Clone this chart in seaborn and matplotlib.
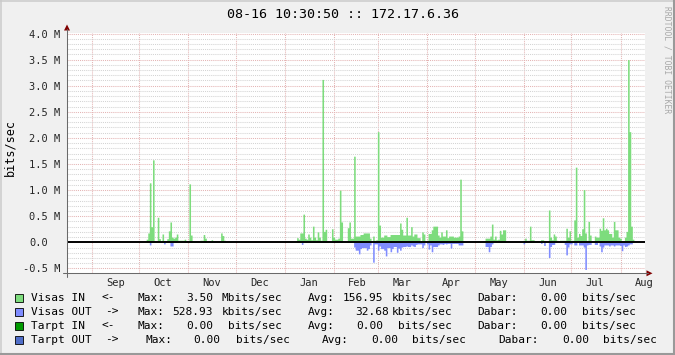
import numpy as np
import pandas as pd
import matplotlib
matplotlib.use("Agg")
import matplotlib.pyplot as plt
import seaborn as sns
from matplotlib.patches import Rectangle, Polygon
from matplotlib.lines import Line2D
from matplotlib.transforms import ScaledTranslation

# ---------------------------------------------------------------- data
title = "08-16 10:30:50 :: 172.17.6.36"
watermark = "RRDTOOL / TOBI OETIKER"
y_label = "bits/sec"
end_time = pd.Timestamp("2014-08-16 10:30:50")
n_days = 365

month_labels = ["Sep", "Oct", "Nov", "Dec", "Jan", "Feb",
                "Mar", "Apr", "May", "Jun", "Jul", "Aug"]
ytick_values = [-0.5, 0.0, 0.5, 1.0, 1.5, 2.0, 2.5, 3.0, 3.5, 4.0]
ytick_labels = ["-0.5 M", "0.0", "0.5 M", "1.0 M", "1.5 M", "2.0 M",
                "2.5 M", "3.0 M", "3.5 M", "4.0 M"]

# Visas IN, daily values in Mbit/s (runs: first day index + values)
in_oct_start = 50
in_oct = [0.06, 0.18, 1.14, 0.30, 1.58, 0.03, 0.03, 0.48, 0.07, 0.02,
          0.16, 0.03, 0.03, 0.07, 0.22, 0.39, 0.10, 0.08, 0.10, 0.16,
          0.04, 0.04, 0.04, 0.04, 0.06, 0.03, 0.02, 1.12, 0.14, 0.03,
          0.03, 0.03, 0.03, 0.00, 0.04, 0.04, 0.15, 0.08, 0.00, 0.03,
          0.03, 0.05, 0.03, 0.03, 0.03, 0.03, 0.03, 0.18, 0.13, 0.04,
          0.02, 0.02, 0.02, 0.02]
in_jan_start = 145
in_jan = [0.09, 0.06, 0.18, 0.18, 0.54, 0.08, 0.06, 0.16, 0.10, 0.05,
          0.31, 0.10, 0.05, 0.20, 0.10, 0.04, 3.12, 0.21, 0.25, 0.03,
          0.00, 0.00, 0.26, 0.10, 0.06, 0.06, 0.08, 1.00, 0.39, 0.00,
          0.00, 0.00, 0.28, 0.39, 0.08, 0.08, 1.65, 0.12, 0.12, 0.12,
          0.15, 0.15, 0.18, 0.18, 0.18, 0.18, 0.08, 0.00, 0.12, 0.04,
          0.05, 2.12, 0.33, 0.10, 0.10, 0.14, 0.14, 0.11, 0.11, 0.15,
          0.15, 0.15, 0.15, 0.15, 0.15, 0.37, 0.25, 0.14, 0.14, 0.48,
          0.14, 0.14, 0.30, 0.12, 0.16, 0.16, 0.09, 0.09, 0.03, 0.20,
          0.16, 0.00, 0.04, 0.17, 0.17, 0.24, 0.31, 0.31, 0.31, 0.14,
          0.10, 0.20, 0.12, 0.12, 0.24, 0.09, 0.12, 0.12, 0.12, 0.10,
          0.10, 0.10, 0.12, 1.21, 0.22, 0.03]
in_may_start = 264
in_may = [0.08, 0.08, 0.08, 0.12, 0.35, 0.06, 0.12, 0.05, 0.06, 0.23,
          0.16, 0.24, 0.24]
in_jun_start = 288
in_jun = [0.04, 0.08, 0.04, 0.04, 0.31, 0.05, 0.05, 0.03, 0.03, 0.03,
          0.02, 0.05, 0.05, 0.03, 0.03, 0.01, 0.62, 0.10, 0.05, 0.16,
          0.12, 0.04, 0.00, 0.04, 0.04, 0.04, 0.04, 0.27, 0.10, 0.22,
          0.04, 0.04, 0.43, 1.44, 0.10, 0.17, 0.13, 0.26, 1.01, 0.18,
          0.04, 0.40, 0.14, 0.00, 0.00, 0.12, 0.10, 0.10, 0.27, 0.23,
          0.47, 0.24, 0.27, 0.24, 0.17, 0.17, 0.10, 0.40, 0.24, 0.24,
          0.10, 0.08, 0.03, 0.03, 0.10, 0.21, 3.50, 2.12, 0.31, 0.06]

# Visas OUT, daily values in Mbit/s (drawn below zero)
out_oct_start = 52
out_oct = [0.05, 0, 0, 0, 0, 0, 0, 0, 0, 0.03, 0, 0, 0, 0.07, 0.07]
out_jan_start = 148
out_jan = [0.04]
out_feb_start = 181
out_feb = [0.09, 0.15, 0.15, 0.22, 0.12, 0.10, 0.10, 0.10, 0.15, 0.12,
           0.05, 0.00, 0.38, 0.03, 0.03, 0.15, 0.07, 0.12, 0.12, 0.15,
           0.26, 0.10, 0.10, 0.18, 0.12, 0.08, 0.08, 0.19, 0.11, 0.15,
           0.09, 0.08, 0.08, 0.07, 0.08, 0.08, 0.05, 0.07, 0.08, 0.04,
           0.03, 0.03, 0.03, 0.10, 0.05, 0.00, 0.03, 0.13, 0.05, 0.18,
           0.08, 0.08, 0.08, 0.05, 0.03, 0.03, 0.04, 0.02, 0.03, 0.02,
           0.02, 0.11, 0.02, 0.02, 0.02, 0.02, 0.05, 0.05, 0.05]
out_may_start = 264
out_may = [0.08, 0.08, 0.18, 0.08, 0.03]
out_jun_start = 288
out_jun = [0.03, 0, 0, 0, 0, 0, 0, 0, 0, 0,
           0, 0.02, 0, 0.06, 0, 0, 0.29, 0.08, 0.04, 0.04,
           0, 0, 0, 0, 0, 0, 0.04, 0.24, 0.09, 0.03,
           0.03, 0, 0.05, 0.05, 0, 0.05, 0.05, 0.05, 0.09, 0.52,
           0.05, 0.04, 0.04, 0, 0, 0.04, 0.04, 0, 0.07, 0.18,
           0.09, 0.05, 0.05, 0.05, 0.07, 0.05, 0.05, 0.07, 0.05, 0.05,
           0.05, 0.06, 0.16, 0.05, 0.08, 0.07, 0.05, 0.03, 0.03]

# legend
legend_rows = [
    ["Visas IN", "<-", "Max:", "3.50", "Mbits/sec", "Avg:", "156.95", "kbits/sec", "Dabar:", "0.00", "bits/sec"],
    ["Visas OUT", "->", "Max:", "528.93", "kbits/sec", "Avg:", "32.68", "kbits/sec", "Dabar:", "0.00", "bits/sec"],
    ["Tarpt IN", "<-", "Max:", "0.00", "bits/sec", "Avg:", "0.00", "bits/sec", "Dabar:", "0.00", "bits/sec"],
    ["Tarpt OUT", "->", "Max:", "0.00", "bits/sec", "Avg:", "0.00", "bits/sec", "Dabar:", "0.00", "bits/sec"],
]

# ---------------------------------------------------------------- style
IN_COLOR = "#7ddc7d"
OUT_COLOR = "#7f8cff"
TIN_COLOR = "#009a00"
TOUT_COLOR = "#506ec8"
legend_colors = [IN_COLOR, OUT_COLOR, TIN_COLOR, TOUT_COLOR]
BACK = "#f0f0f0"
GRID = "#d4d4d4"
MGRID = "#e4b4b4"
AXIS = "#6a6a6a"
ARROW = "#800000"

sns.set_theme(style="white")
plt.rcParams["font.family"] = ["DejaVu Sans Mono", "DejaVu Sans"]
plt.rcParams["axes.unicode_minus"] = False
plt.rcParams["text.color"] = "black"

W, H = 675, 355


def fx(x):
    return x / W


def fy(y):
    return 1 - y / H


def expand(runs):
    arr = np.zeros(n_days)
    for start, vals in runs:
        arr[start:start + len(vals)] = vals
    return arr


visas_in = expand([(in_oct_start, in_oct), (in_jan_start, in_jan),
                   (in_may_start, in_may), (in_jun_start, in_jun)])
visas_out = expand([(out_oct_start, out_oct), (out_jan_start, out_jan),
                    (out_feb_start, out_feb), (out_may_start, out_may),
                    (out_jun_start, out_jun)])
df = pd.DataFrame({"day": np.arange(n_days) + 0.5,
                   "visas_in": visas_in,
                   "visas_out": -visas_out})

fig = plt.figure(figsize=(W / 100, H / 100), dpi=100, facecolor=BACK)
L, R, T, B = 67, 645, 33.3, 273.3
ax = fig.add_axes([fx(L), fy(B), (R - L) / W, (B - T) / H])
ax.set_facecolor("white")
for s in ax.spines.values():
    s.set_visible(False)

sns.histplot(data=df, x="day", weights="visas_in", binwidth=1, binrange=(0, n_days),
             element="step", fill=True, color=IN_COLOR, alpha=1, linewidth=0,
             ax=ax, zorder=2)
sns.histplot(data=df, x="day", weights="visas_out", binwidth=1, binrange=(0, n_days),
             element="step", fill=True, color=OUT_COLOR, alpha=1, linewidth=0,
             ax=ax, zorder=2)
ax.axhline(0, color="black", lw=1.4, zorder=4)

ax.set_xlim(0, n_days)
ax.set_ylim(-0.593, 4.004)
ax.set_xlabel("")
ax.set_ylabel("")

# month grid / labels
start_time = end_time - pd.Timedelta(days=n_days)
month_starts = pd.date_range(start_time.normalize() + pd.offsets.MonthBegin(1),
                             end_time, freq="MS")
mpos = np.asarray((month_starts - start_time) / pd.Timedelta(days=1))
ax.set_xticks(mpos)
ax.set_xticklabels([])
ax.set_xticks(mpos + 15, minor=True)
ax.set_xticklabels(month_labels, minor=True)
ax.tick_params(axis="x", which="major", direction="out", length=2.2,
               width=0.7, color=AXIS)
ax.tick_params(axis="x", which="minor", length=0, pad=3.6, labelsize=7.5)
ax.xaxis.grid(True, which="major", color=MGRID, linestyle=(0, (1, 1)), linewidth=0.75)

ax.set_yticks(ytick_values)
ax.set_yticklabels(ytick_labels)
ax.set_yticks(np.arange(-0.5, 4.01, 0.1), minor=True)
ax.tick_params(axis="y", which="both", direction="inout", length=3,
               width=0.7, color=AXIS, labelsize=7.5, pad=3.5)
ax.yaxis.grid(True, which="minor", color=GRID, linestyle=(0, (1, 1)), linewidth=0.75)
ax.yaxis.grid(True, which="major", color=MGRID, linestyle=(0, (1, 1)), linewidth=0.75)
ax.set_axisbelow(True)

for lab in ax.get_yticklabels():
    if lab.get_text() == "0.0":
        lab.set_transform(lab.get_transform() +
                          ScaledTranslation(-12 / 100, 0, fig.dpi_scale_trans))

# axes lines with arrows
fig.add_artist(Line2D([fx(L), fx(L)], [fy(277), fy(29)], color=AXIS, lw=0.75))
fig.add_artist(Line2D([fx(63), fx(648)], [fy(B), fy(B)], color=AXIS, lw=0.75))
fig.add_artist(Polygon([[fx(L), fy(24.5)], [fx(L - 3), fy(30.5)], [fx(L + 3), fy(30.5)]],
                       closed=True, transform=fig.transFigure, color=ARROW, lw=0))
fig.add_artist(Polygon([[fx(652.5), fy(B)], [fx(646.5), fy(B - 3)], [fx(646.5), fy(B + 3)]],
                       closed=True, transform=fig.transFigure, color=ARROW, lw=0))

# texts
fig.text(fx(343), fy(14), title, ha="center", va="center", fontsize=9.6)
fig.text(fx(10), fy(148), y_label, rotation=90, ha="center", va="center", fontsize=8.5)
fig.text(fx(666.5), fy(60), watermark, rotation=270, ha="center", va="center",
         fontsize=5.8, color="#a8a8a8")

# legend
legend_x = [
    [31, 101.2, 137.8, 186.0, 221.7, 307.8, 343.1, 391.7, 477.0, 540.2, 582.0],
    [31, 105.5, 137.8, 172.2, 221.7, 307.8, 355.1, 391.7, 477.0, 540.2, 582.0],
    [31, 101.2, 137.8, 186.0, 228.2, 307.8, 356.4, 398.2, 477.0, 540.2, 582.0],
    [31, 105.5, 145.1, 193.7, 235.5, 322.0, 371.0, 412.4, 498.5, 561.8, 602.7],
]
row_y = [298, 312, 326, 340]
for tokens, xs, y, col in zip(legend_rows, legend_x, row_y, legend_colors):
    fig.add_artist(Rectangle((fx(15), fy(y + 4)), 8 / W, 8 / H,
                             transform=fig.transFigure, facecolor=col,
                             edgecolor="black", lw=0.6))
    for tok, x in zip(tokens, xs):
        fig.text(fx(x), fy(y), tok, ha="left", va="center", fontsize=8)

# 3D frame
fig.add_artist(Line2D([0, 1], [fy(0.75), fy(0.75)], color="#cbcbcb", lw=1.1))
fig.add_artist(Line2D([fx(0.75), fx(0.75)], [0, 1], color="#cbcbcb", lw=1.1))
fig.add_artist(Line2D([0, 1], [fy(354), fy(354)], color="#999999", lw=1.5))
fig.add_artist(Line2D([fx(674), fx(674)], [0, 1], color="#999999", lw=1.5))

fig.savefig("out.png", dpi=100, facecolor=fig.get_facecolor())
